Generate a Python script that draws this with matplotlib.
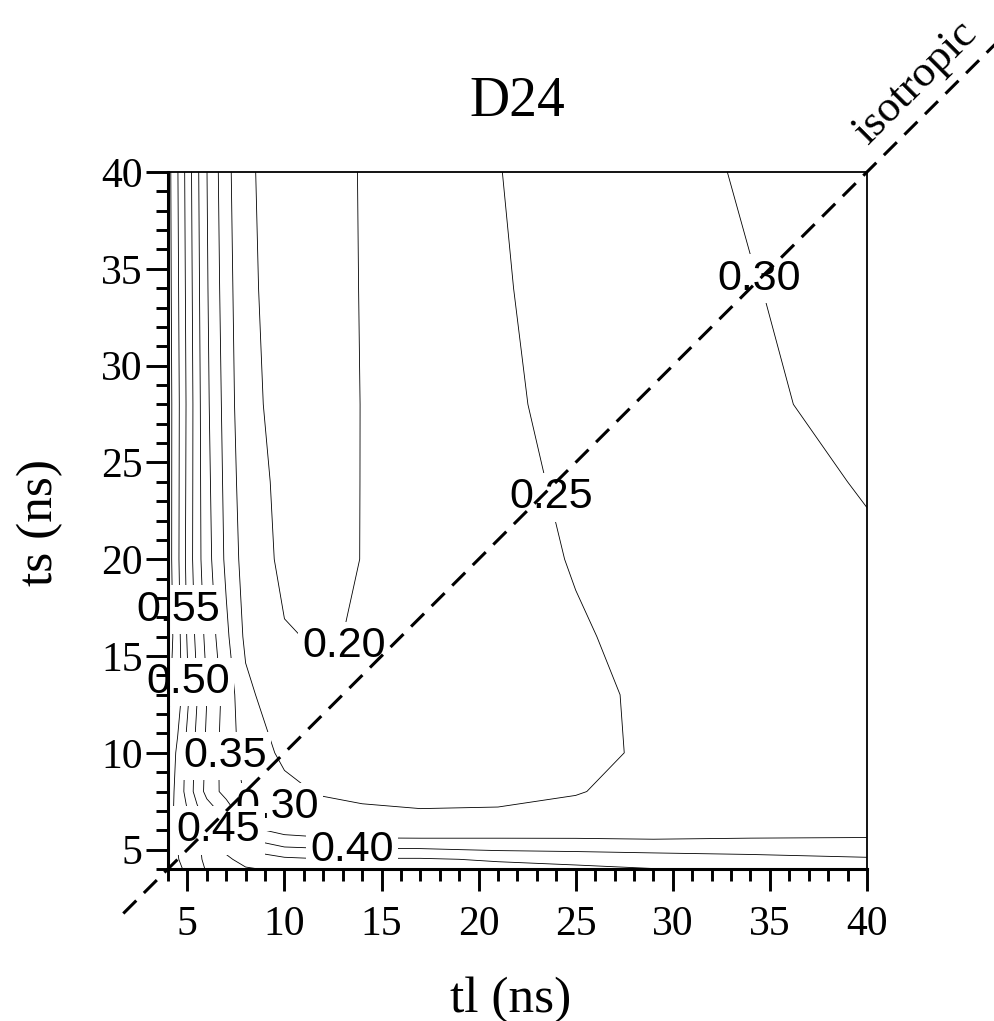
import numpy as np
import matplotlib.pyplot as plt
from matplotlib.ticker import MultipleLocator

# grid of the D24 surface
tl = np.array([4, 4.5, 5, 5.5, 6, 7, 8, 10, 12, 14, 17, 21, 25, 29, 34, 40])
ts = np.array([4, 4.5, 5, 5.5, 6, 7, 8, 10, 13, 16, 20, 24, 28, 34, 40])

d24 = np.array([
    [0.575, 0.56, 0.54, 0.52, 0.495, 0.475, 0.455, 0.44, 0.43, 0.425, 0.42, 0.415, 0.407, 0.401, 0.39, 0.38],
    [0.57, 0.552, 0.535, 0.51, 0.49, 0.46, 0.43, 0.41, 0.402, 0.405, 0.405, 0.395, 0.39, 0.379, 0.37, 0.356],
    [0.565, 0.55, 0.53, 0.51, 0.485, 0.44, 0.395, 0.362, 0.356, 0.357, 0.355, 0.345, 0.34, 0.335, 0.33, 0.327],
    [0.565, 0.545, 0.52, 0.49, 0.46, 0.41, 0.355, 0.318, 0.31, 0.308, 0.307, 0.307, 0.306, 0.302, 0.305, 0.306],
    [0.565, 0.54, 0.51, 0.475, 0.44, 0.39, 0.315, 0.285, 0.275, 0.27, 0.268, 0.268, 0.27, 0.275, 0.278, 0.282],
    [0.57, 0.535, 0.50, 0.46, 0.425, 0.38, 0.31, 0.28, 0.265, 0.257, 0.252, 0.253, 0.258, 0.27, 0.275, 0.28],
    [0.575, 0.535, 0.48, 0.43, 0.385, 0.33, 0.295, 0.262, 0.245, 0.238, 0.235, 0.238, 0.248, 0.262, 0.268, 0.275],
    [0.59, 0.54, 0.485, 0.435, 0.39, 0.325, 0.28, 0.24, 0.232, 0.228, 0.227, 0.23, 0.24, 0.256, 0.262, 0.27],
    [0.61, 0.575, 0.51, 0.452, 0.401, 0.33, 0.262, 0.215, 0.21, 0.212, 0.218, 0.228, 0.242, 0.256, 0.262, 0.27],
    [0.63, 0.57, 0.495, 0.435, 0.385, 0.31, 0.24, 0.203, 0.196, 0.204, 0.217, 0.232, 0.247, 0.258, 0.268, 0.279],
    [0.625, 0.56, 0.485, 0.42, 0.37, 0.29, 0.228, 0.19, 0.185, 0.201, 0.218, 0.238, 0.252, 0.265, 0.278, 0.294],
    [0.625, 0.561, 0.488, 0.42, 0.365, 0.285, 0.219, 0.189, 0.183, 0.201, 0.22, 0.242, 0.255, 0.269, 0.285, 0.303],
    [0.625, 0.562, 0.49, 0.42, 0.36, 0.28, 0.21, 0.188, 0.182, 0.201, 0.222, 0.245, 0.258, 0.273, 0.293, 0.312],
    [0.622, 0.557, 0.485, 0.415, 0.355, 0.272, 0.208, 0.184, 0.18, 0.202, 0.223, 0.247, 0.262, 0.279, 0.298, 0.318],
    [0.62, 0.552, 0.48, 0.41, 0.351, 0.265, 0.207, 0.18, 0.178, 0.203, 0.225, 0.249, 0.267, 0.284, 0.305, 0.325],
])

levels = [0.20, 0.25, 0.30, 0.35, 0.40, 0.45, 0.50, 0.55, 0.60]

# contour labels (value, where it sits)
label_vals = [0.55, 0.50, 0.35, 0.30, 0.45, 0.40, 0.20, 0.25, 0.30]
label_tl = [4.51, 5.03, 6.93, 9.6, 6.6, 13.5, 13.06, 23.76, 34.47]
label_ts = [17.4, 13.65, 9.83, 7.2, 6.0, 5.0, 15.5, 23.2, 34.5]

iso = [1.7, 47]

serif = 'Liberation Serif'
sans = 'Liberation Sans'

fig = plt.figure(figsize=(9.95, 10.21), dpi=100)
ax = fig.add_axes([0.1688, 0.1489, 0.7025, 0.6826])

ax.contour(tl, ts, d24, levels=levels, colors='k', linewidths=0.6, zorder=1)

for v, x, y in zip(label_vals, label_tl, label_ts):
    ax.text(x, y, '%.2f' % v, fontsize=31, family=sans, ha='center', va='center',
            zorder=1.2, clip_on=False,
            bbox=dict(boxstyle='square,pad=0.1', fc='white', ec='none'))

# isotropic line tl = ts
ax.plot(iso, iso, color='k', lw=2.2, ls='--', dashes=(6, 3.5), clip_on=False, zorder=3)
ax.text(42.5, 44.6, 'isotropic', fontsize=32, family=serif, rotation=45,
        rotation_mode='anchor', ha='center', va='center', clip_on=False)

ax.set_xlim(4, 40)
ax.set_ylim(4, 40)
ax.xaxis.set_major_locator(MultipleLocator(5))
ax.xaxis.set_minor_locator(MultipleLocator(1))
ax.yaxis.set_major_locator(MultipleLocator(5))
ax.yaxis.set_minor_locator(MultipleLocator(1))
ax.tick_params(which='both', direction='out', width=2.1, top=False, right=False)
ax.tick_params(which='major', length=15.5)
ax.tick_params(which='minor', length=8.5)
ax.tick_params(axis='x', which='major', pad=11)
ax.tick_params(axis='y', which='major', pad=2.7)
for lab in ax.get_xticklabels() + ax.get_yticklabels():
    lab.set_fontfamily(serif)
    lab.set_fontsize(30)

ax.spines['left'].set_linewidth(2.2)
ax.spines['bottom'].set_linewidth(2.2)
ax.spines['top'].set_linewidth(1.3)
ax.spines['right'].set_linewidth(1.3)

ax.text(0.5, 1.08, 'D24', transform=ax.transAxes, fontsize=40, family=serif,
        ha='center', va='baseline')
fig.text(0.5136, 0.009, 'tl (ns)', fontsize=37, family=serif, ha='center', va='baseline')
fig.text(0.0402, 0.4878, 'ts (ns)', fontsize=37, family=serif, rotation=90,
         ha='center', va='center')

fig.savefig('out.png', dpi=100)
